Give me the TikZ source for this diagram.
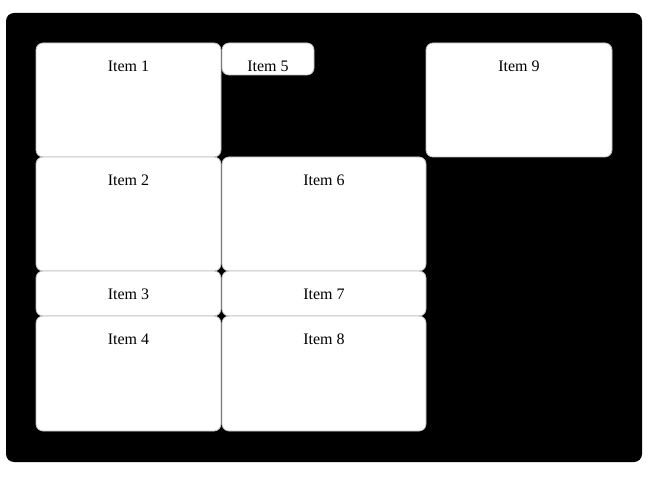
\documentclass[tikz,border=0pt]{standalone}
\usepackage{fontspec}
\setmainfont{Liberation Serif}
\begin{document}
\begin{tikzpicture}[x=1pt,y=-1pt,
  itembox/.style={draw=black!25,fill=white,rounded corners=7pt,line width=0.8pt},
  lbl/.style={font=\fontsize{16}{18}\selectfont,inner sep=0pt}]
\useasboundingbox (0,0) rectangle (648,481);
\fill[white] (0,0) rectangle (648,481);
\fill[black,rounded corners=8pt] (6,13) rectangle (642,462);
\foreach \n/\xa/\ya/\xb/\yb in {1/36/43/221/157, 5/222/43/314/75, 9/426/43/612/157,
  2/36/157/221/271, 6/222/157/426/271, 3/36/271/221/316, 7/222/271/426/316,
  4/36/316/221/431, 8/222/316/426/431}{
  \draw[itembox] (\xa,\ya) rectangle (\xb,\yb);
  \node[lbl] (i\n) at ({(\xa+\xb)/2},\ya+23) {Item \n};
}
\end{tikzpicture}
\end{document}
